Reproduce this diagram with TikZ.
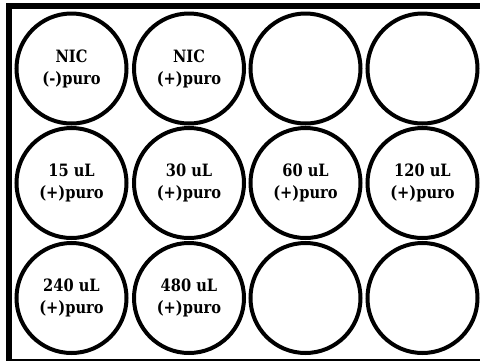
\documentclass[tikz,border=0pt]{standalone}
\usepackage{fontspec}
\newfontfamily\lblfont[FakeStretch=0.86]{DejaVu Serif}
\begin{document}
\begin{tikzpicture}[x=1pt,y=-1pt,
  well/.style={circle,draw=black,line width=4pt,minimum size=110pt,inner sep=0pt,
    font=\lblfont\bfseries\fontsize{17}{22}\selectfont,align=center},
  frame/.style={draw=black,line width=6pt}]
\useasboundingbox (0,0) rectangle (480,360);
\draw[frame] (8.5,5.5) rectangle (486,361.5);
\node[well] (w11) at (71.5,68.5) {NIC\\(-)puro};
\node[well] (w12) at (189,68.5) {NIC\\(+)puro};
\node[well] (w13) at (305.5,68.5) {};
\node[well] (w14) at (422.5,68.5) {};
\node[well] (w21) at (71.5,183) {15 uL\\(+)puro};
\node[well] (w22) at (189,183) {30 uL\\(+)puro};
\node[well] (w23) at (305.5,183) {60 uL\\(+)puro};
\node[well] (w24) at (422.5,183) {120 uL\\(+)puro};
\node[well] (w31) at (71.5,298) {240 uL\\(+)puro};
\node[well] (w32) at (189,298) {480 uL\\(+)puro};
\node[well] (w33) at (305.5,298) {};
\node[well] (w34) at (422.5,298) {};
\end{tikzpicture}
\end{document}
